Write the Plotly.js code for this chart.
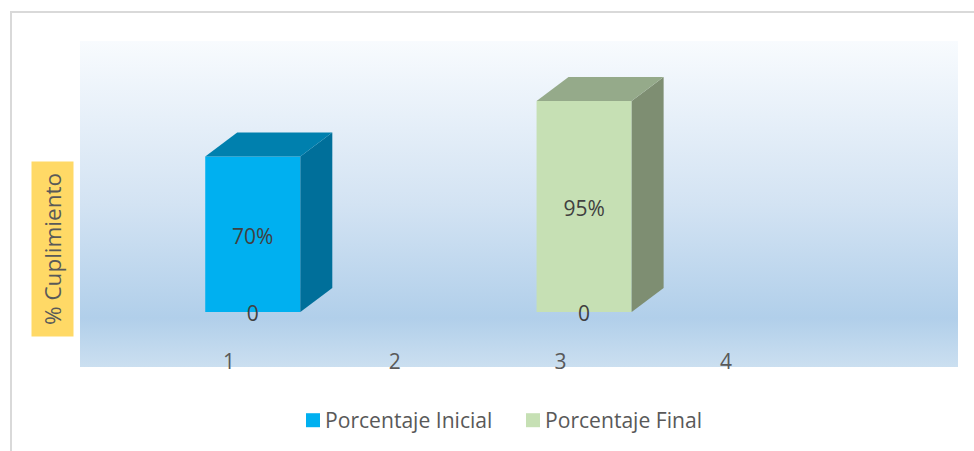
<!DOCTYPE html>
<html>
<head>
<meta charset="utf-8">
<script src="https://cdn.plot.ly/plotly-3.0.1.min.js"></script>
<style>html,body{margin:0;padding:0;background:#fff}#chart{width:974px;height:451px}</style>
</head>
<body>
<div id="chart"></div>
<script>
// Series
const tickValues = [1, 2, 3, 4];
const seriesNames = ['Porcentaje Inicial', 'Porcentaje Final'];
const categories = [1, 3];
const values = [70, 95];
const valueLabels = ['70%', '95%'];
const baseLabels = ['0', '0'];

// Styling of the prism faces
const frontColors = ['#00B0F0', '#C6E0B4'];
const topColors = ['#0080AE', '#95AA8A'];
const sideColors = ['#006F9A', '#7E8E72'];

// Prism geometry in axis units
const barShift = 0.143, barWidth = 0.574, depthX = 0.193, depthY = 10.8;

const font = 'Open Sans, sans-serif';
const traces = [];

categories.forEach((c, i) => {
  const v = values[i];
  const l = c + barShift - barWidth / 2, r = c + barShift + barWidth / 2;
  traces.push({
    type: 'bar', name: seriesNames[i], x: [c + barShift], y: [v], width: barWidth,
    marker: {color: frontColors[i], line: {width: 0}}, hoverinfo: 'name+y'
  });
  traces.push({
    type: 'scatter', mode: 'lines', fill: 'toself', fillcolor: sideColors[i], showlegend: false, hoverinfo: 'skip',
    line: {width: 0},
    x: [r, r + depthX, r + depthX, r, r], y: [0, depthY, v + depthY, v, 0]
  });
  traces.push({
    type: 'scatter', mode: 'lines', fill: 'toself', fillcolor: topColors[i], showlegend: false, hoverinfo: 'skip',
    line: {width: 0},
    x: [l, l + depthX, r + depthX, r, l], y: [v, v + depthY, v + depthY, v, v]
  });
  traces.push({
    type: 'scatter', mode: 'text', showlegend: false, hoverinfo: 'skip',
    x: [c + barShift, c + barShift], y: [v / 2 - 2, -1.8],
    text: [valueLabels[i], baseLabels[i]], textposition: 'middle center',
    textfont: {family: font, size: 21, color: '#404040'}
  });
});

// Plot-area backdrop
const backdrop = `<svg xmlns="http://www.w3.org/2000/svg" width="878" height="326" preserveAspectRatio="none">
<defs><linearGradient id="g" x1="0" y1="0" x2="0" y2="1">
<stop offset="0" stop-color="#F8FBFE"/><stop offset="0.5" stop-color="#D3E3F3"/>
<stop offset="0.85" stop-color="#B1CFEA"/><stop offset="1" stop-color="#CBDFF0"/>
</linearGradient></defs><rect width="878" height="326" fill="url(#g)"/></svg>`;

// Pixel positions outside the plot area, expressed in paper units
const W = 878, H = 326, ML = 80, MT = 41;
const px = x => (x - ML) / W;
const py = y => 1 - (y - MT) / H;

const layout = {
  width: 974, height: 451,
  margin: {l: ML, r: 16, t: MT, b: 84},
  paper_bgcolor: '#FFFFFF', plot_bgcolor: 'rgba(0,0,0,0)',
  font: {family: font, color: '#595959', size: 21},
  barmode: 'overlay',
  xaxis: {
    range: [0.1, 5.4], tickmode: 'array', tickvals: tickValues, ticktext: tickValues.map(String),
    showgrid: false, zeroline: false, showline: false, ticks: '',
    ticklabelposition: 'inside', ticklabelstandoff: -9, tickfont: {family: font, size: 21, color: '#595959'}
  },
  yaxis: {
    range: [-24.8, 122], showticklabels: false, showgrid: false, zeroline: false, showline: false, ticks: ''
  },
  images: [{
    source: 'data:image/svg+xml,' + encodeURIComponent(backdrop),
    xref: 'paper', yref: 'paper', x: 0, y: 1, sizex: 1, sizey: 1,
    sizing: 'stretch', xanchor: 'left', yanchor: 'top', layer: 'below'
  }],
  shapes: [
    {type: 'path', xref: 'paper', yref: 'paper', layer: 'below',
     path: `M ${px(11)} ${py(451)} L ${px(11)} ${py(12)} L ${px(974)} ${py(12)}`,
     line: {color: '#D9D9D9', width: 2}}
  ],
  annotations: [{
    text: '% Cuplimiento', textangle: -90, xref: 'paper', yref: 'paper', showarrow: false,
    x: px(52), y: py(249), xanchor: 'center', yanchor: 'middle',
    width: 174, height: 41, bgcolor: '#FFD966', borderpad: 0, align: 'center',
    font: {family: font, size: 22.5, color: '#595959'}
  }],
  legend: {
    orientation: 'h', x: px(285), y: py(439), xanchor: 'left', yanchor: 'bottom',
    entrywidth: 175, entrywidthmode: 'pixels',
    font: {family: font, size: 21.1, color: '#595959'}, bgcolor: 'rgba(0,0,0,0)', itemclick: false, itemdoubleclick: false
  },
  showlegend: true
};

Plotly.newPlot('chart', traces, layout, {displayModeBar: false, responsive: false}).then(gd => {
  // Tighter, slightly larger legend swatches next to their labels
  gd.querySelectorAll('.legend .legendpoints path').forEach(p => {
    p.setAttribute('d', 'M7,7H-7V-7H7Z');
    p.setAttribute('transform', 'translate(28,0)');
  });
  // Settle the legend a little lower without pushing the plot margin
  const legend = gd.querySelector('.legend');
  legend.setAttribute('transform', legend.getAttribute('transform') + ' translate(0,2)');
});
</script>
</body>
</html>
